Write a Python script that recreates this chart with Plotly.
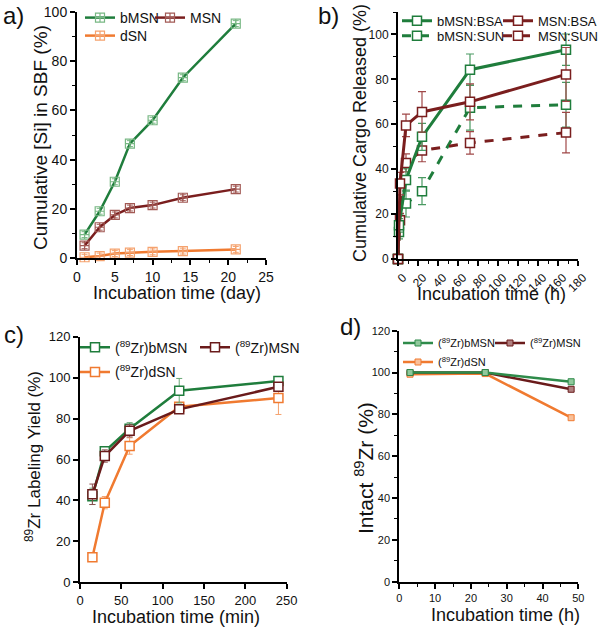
import plotly.graph_objects as go

W, H = 600, 628
FONT = "Liberation Sans, Arial, sans-serif"

# ---------------- data ----------------
# panel a
a_days = [1, 3, 5, 7, 10, 14, 21]
a_bmsn = [9.5, 19, 31, 46.5, 56, 73.3, 95.3]
a_msn = [5, 12.5, 17.5, 20.3, 21.5, 24.5, 28]
a_dsn = [0.3, 0.8, 1.8, 2.2, 2.5, 2.8, 3.5]
a_err = [1.2, 1.2, 1.2, 1.2, 1.2, 1.2, 1.2]

# panel b
b_t_b = [0, 1, 8, 24, 72, 168]
b_t_m = [0, 2, 8, 24, 72, 168]
b_bmsn_bsa = [0, 15, 35.2, 54.4, 84.3, 93.2]
b_bmsn_bsa_err = [0, 3, 5, 6, 7, 7]
b_msn_bsa = [0, 33.6, 59.5, 65.5, 70, 82.2]
b_msn_bsa_err = [0, 5, 5, 9, 8, 12]
b_bmsn_sun = [0, 12, 24.7, 30.2, 67.4, 68.7]
b_bmsn_sun_err = [0, 3, 6, 6, 10, 10]
b_msn_sun = [0, 17.3, 42.8, 48.3, 51.7, 56.3]
b_msn_sun_err = [0, 3, 4, 5, 5, 9]

# panel c
c_min = [15, 30, 60, 120, 240]
c_bmsn = [42, 64, 75, 93.6, 98.3]
c_bmsn_err = [4, 2, 3, 6, 1.5]
c_msn = [43, 61.7, 74, 84.5, 95.5]
c_msn_err = [5, 3, 3, 2, 2]
c_dsn = [12.2, 38.9, 66.6, 85.8, 90]
c_dsn_err = [2, 3, 4, 2, 8]

# panel d
d_h = [3, 24, 48]
d_bmsn = [100, 100, 95.6]
d_msn = [100, 100, 92]
d_dsn = [99.2, 99.5, 78.4]

GREEN = "#1f7d3c"
RED = "#7a1e1e"
ORANGE = "#f07a30"

def px(x):
    return x / W

def py(y):
    return 1 - y / H

def xd(p0, p1):
    return [px(p0), px(p1)]

def yd(top, bottom):
    return [py(bottom), py(top)]

fig = go.Figure()

# ---------------- panel a ----------------
def a_trace(y, name, lc, mc, leg):
    return go.Scatter(
        x=a_days, y=y, name=name, mode="lines+markers", xaxis="x", yaxis="y",
        line=dict(color=lc, width=2.5),
        marker=dict(symbol="square-cross-open", size=9, color=mc, line=dict(width=1.2, color=mc)),
        error_y=dict(type="data", array=a_err, color=mc, thickness=1, width=3),
        legend=leg, cliponaxis=False, showlegend=True)

fig.add_trace(a_trace(a_bmsn, "bMSN", GREEN, "#78b884", "legend"))
fig.add_trace(a_trace(a_msn, "MSN", RED, "#a25a55", "legend2"))
fig.add_trace(a_trace(a_dsn, "dSN", ORANGE, "#f5a26e", "legend3"))

# ---------------- panel b ----------------
def b_trace(x, y, err, name, col, ecol, dash, leg):
    return go.Scatter(
        x=x, y=y, name=name, mode="lines+markers", xaxis="x2", yaxis="y2",
        line=dict(color=col, width=3, dash=dash),
        marker=dict(symbol="square", size=9, color="white", line=dict(width=1.5, color=col)),
        error_y=dict(type="data", array=err, color=ecol, thickness=1.2, width=4),
        legend=leg, cliponaxis=False, showlegend=True)

fig.add_trace(b_trace(b_t_b, b_bmsn_sun, b_bmsn_sun_err, "bMSN:SUN", GREEN, "#4a9a62", "dash", "legend6"))
fig.add_trace(b_trace(b_t_m, b_msn_sun, b_msn_sun_err, "MSN:SUN", RED, "#a04848", "dash", "legend7"))
fig.add_trace(b_trace(b_t_b, b_bmsn_bsa, b_bmsn_bsa_err, "bMSN:BSA", GREEN, "#4a9a62", "solid", "legend4"))
fig.add_trace(b_trace(b_t_m, b_msn_bsa, b_msn_bsa_err, "MSN:BSA", RED, "#a04848", "solid", "legend5"))

# ---------------- panel c ----------------
def c_trace(y, err, name, col, ecol, leg):
    return go.Scatter(
        x=c_min, y=y, name=name, mode="lines+markers", xaxis="x3", yaxis="y3",
        line=dict(color=col, width=2.5),
        marker=dict(symbol="square", size=9, color="white", line=dict(width=1.5, color=col)),
        error_y=dict(type="data", array=err, color=ecol, thickness=1, width=3),
        legend=leg, cliponaxis=False, showlegend=True)

fig.add_trace(c_trace(c_dsn, c_dsn_err, "(<sup>89</sup>Zr)dSN", ORANGE, "#f5a26e", "legend10"))
fig.add_trace(c_trace(c_bmsn, c_bmsn_err, "(<sup>89</sup>Zr)bMSN", GREEN, "#6aa878", "legend8"))
fig.add_trace(c_trace(c_msn, c_msn_err, "(<sup>89</sup>Zr)MSN", "#6a1b1b", "#8a5050", "legend9"))

# ---------------- panel d ----------------
def d_trace(y, name, col, fill, leg):
    return go.Scatter(
        x=d_h, y=y, name=name, mode="lines+markers", xaxis="x4", yaxis="y4",
        line=dict(color=col, width=2.5),
        marker=dict(symbol="square", size=6, color=fill, line=dict(width=1, color=col)),
        legend=leg, cliponaxis=False, showlegend=True)

fig.add_trace(d_trace(d_dsn, "(<sup>89</sup>Zr)dSN", ORANGE, "#f8c09a", "legend13"))
fig.add_trace(d_trace(d_msn, "(<sup>89</sup>Zr)MSN", "#6a1b1b", "#b08080", "legend12"))
fig.add_trace(d_trace(d_bmsn, "(<sup>89</sup>Zr)bMSN", "#2e8b4a", "#90c89c", "legend11"))

# ---------------- axes ----------------
def ax(domain, rng, dtick, minor_dtick, fs, anchor, **extra):
    d = dict(domain=domain, range=rng, dtick=dtick, tick0=0, showline=True, linewidth=2,
             linecolor="black", ticks="outside", ticklen=5, tickwidth=1.5, tickcolor="black",
             showgrid=False, zeroline=False, anchor=anchor, ticklabeloverflow="allow",
             tickfont=dict(family=FONT, size=fs, color="#111"))
    if minor_dtick:
        d["minor"] = dict(dtick=minor_dtick, ticks="outside", ticklen=3, tickwidth=1, tickcolor="black")
    d.update(extra)
    return d

layout = dict(
    width=W, height=H, margin=dict(l=0, r=0, t=0, b=0, autoexpand=False),
    plot_bgcolor="white", paper_bgcolor="white", showlegend=True,
    font=dict(family=FONT, color="#111"),
    xaxis=ax(xd(77, 266), [0, 25], 5, 2.5, 14, "y"),
    yaxis=ax(yd(12, 258), [0, 100], 20, 10, 14, "x"),
    xaxis2=ax(xd(398, 578), [0, 180], 20, 10, 12, "y2", tickangle=-45, ticklabelshift=5),
    yaxis2=ax(yd(12, 259), [0, 110], 20, 10, 12, "x2"),
    xaxis3=ax(xd(80, 286.7), [0, 250], 50, None, 13, "y3"),
    yaxis3=ax(yd(336.7, 582.3), [0, 120], 20, None, 13, "x3"),
    xaxis4=ax(xd(399.3, 578.3), [0, 50], 10, 5, 11, "y4"),
    yaxis4=ax(yd(330.7, 581.7), [0, 120], 20, 10, 11, "x4"),
)

def leg(xpx, ypx, fs):
    return dict(x=px(xpx), y=py(ypx), xanchor="left", yanchor="middle",
                orientation="h", bgcolor="rgba(0,0,0,0)", visible=True,
                font=dict(family=FONT, size=fs, color="#111"))

# one legend per entry so each can sit exactly where the reference has it
layout["legend"] = leg(80, 18, 14)      # bMSN
layout["legend2"] = leg(150, 18, 14)    # MSN
layout["legend3"] = leg(80, 36, 14)     # dSN
layout["legend4"] = leg(397, 20.7, 13)  # bMSN:BSA
layout["legend5"] = leg(498, 20.7, 13)  # MSN:BSA
layout["legend6"] = leg(397, 35.7, 13)  # bMSN:SUN
layout["legend7"] = leg(498, 35.7, 13)  # MSN:SUN
layout["legend8"] = leg(75, 347.7, 14)  # (89Zr)bMSN
layout["legend9"] = leg(195, 347.7, 14) # (89Zr)MSN
layout["legend10"] = leg(75, 372.3, 14) # (89Zr)dSN
layout["legend11"] = leg(398, 343, 11)  # d bMSN
layout["legend12"] = leg(490, 343, 11)  # d MSN
layout["legend13"] = leg(398, 362, 11)  # d dSN

fig.update_layout(**layout)

# ---------------- titles / labels ----------------
def ann(text, xpx, ypx, fs, angle=0):
    fig.add_annotation(text=text, x=px(xpx), y=py(ypx), xref="paper", yref="paper",
                       showarrow=False, textangle=angle, xanchor="center", yanchor="middle",
                       font=dict(family=FONT, size=fs, color="#111"))

ann("a)", 13, 16, 24)
ann("b)", 328, 15, 24)
ann("c)", 14, 334, 24)
ann("d)", 350, 326, 24)

ann("Cumulative [Si] in SBF (%)", 40, 138, 19, -90)
ann("Incubation time (day)", 177, 293, 18)
ann("Cumulative Cargo Released (%)", 360, 133, 18, -90)
ann("Incubation time (h)", 492, 294, 18)
ann("<sup>89</sup>Zr Labeling Yield (%)", 33, 457, 17, -90)
ann("Incubation time (min)", 176, 617, 18)
ann("Intact <sup>89</sup>Zr (%)", 364, 468, 21, -90)
ann("Incubation time (h)", 505, 615, 18)

# the page body's default 8 px margin would push the 600x628 figure out of the window
fig.write_html("out.html", config={"displayModeBar": False},
               post_script="document.body.style.margin='0px';")
